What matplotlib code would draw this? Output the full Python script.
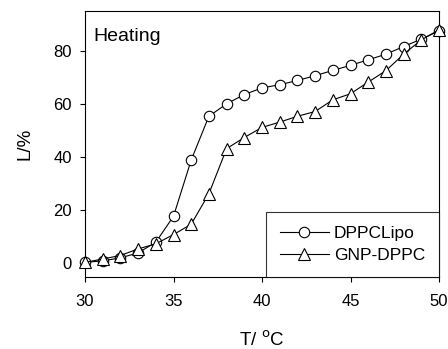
import matplotlib
matplotlib.use("Agg")
from matplotlib import pyplot as plt

plt.rcParams['font.family'] = ['Liberation Sans', 'DejaVu Sans']

temps = [30, 31, 32, 33, 34, 35, 36, 37, 38, 39, 40, 41, 42, 43, 44, 45, 46, 47, 48, 49, 50]
dppc_lipo = [0.2, 0.8, 1.9, 3.8, 7.8, 17.6, 38.8, 55.3, 60.0, 63.5, 66.0, 67.2, 68.8,
             70.6, 72.6, 74.5, 76.6, 78.7, 81.6, 84.4, 87.5]
gnp_dppc = [0.2, 1.5, 2.8, 5.3, 7.2, 10.7, 14.6, 26.1, 43.1, 47.3, 51.1, 53.1, 55.3,
            57.1, 61.5, 63.8, 68.2, 72.5, 78.7, 84.1, 87.9]

fig = plt.figure(figsize=(4.48, 3.49), dpi=100)
ax = fig.add_axes([85 / 448, 1 - 277 / 349, (439 - 85) / 448, (277 - 11) / 349])

lw = 0.8
ax.plot(temps, dppc_lipo, color='black', lw=lw, marker='o', markersize=7.5,
        markerfacecolor='white', markeredgecolor='black', markeredgewidth=lw,
        label='DPPCLipo', clip_on=False, zorder=3)
ax.plot(temps, gnp_dppc, color='black', lw=lw, marker='^', markersize=8.5,
        markerfacecolor='white', markeredgecolor='black', markeredgewidth=lw,
        label='GNP-DPPC', clip_on=False, zorder=4)

ax.set_xlim(30, 50)
ax.set_ylim(-5.3, 95)
ax.set_xticks([30, 35, 40, 45, 50])
ax.set_yticks([0, 20, 40, 60, 80])
ax.tick_params(direction='out', length=3.6, width=0.8, labelsize=12, colors='black', pad=6)
ax.tick_params(axis='x', pad=9)
for s in ax.spines.values():
    s.set_linewidth(0.8)

ax.set_xlabel('T/ $^{\\mathrm{o}}$C', fontsize=13.5, labelpad=15)
ax.set_ylabel('L/%', fontsize=13.5, labelpad=14)
ax.text(0.025, 0.905, 'Heating', transform=ax.transAxes, fontsize=14, va='center', ha='left')

# legend sits in the lower right corner, square frame
leg = ax.legend(loc='lower right', bbox_to_anchor=(1.0, 0.0), borderaxespad=0,
                fancybox=False, edgecolor='black', fontsize=12.5, handlelength=2.8,
                borderpad=0.8, labelspacing=0.4, handletextpad=0.3)
leg.get_frame().set_linewidth(0.8)

fig.savefig('out.png', dpi=100)
